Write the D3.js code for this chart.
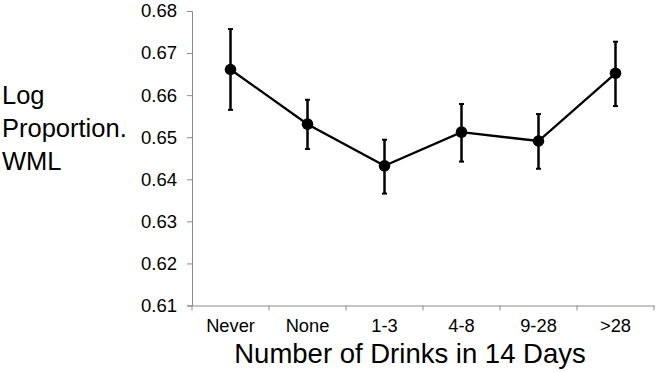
<!DOCTYPE html>
<html>
<head>
<meta charset="utf-8">
<script src="https://cdn.jsdelivr.net/npm/d3@7"></script>
<style>
  html, body { margin: 0; padding: 0; background: #fff; }
  svg { display: block; font-family: "Liberation Sans", Arial, sans-serif; }
</style>
</head>
<body>
<svg id="chart" width="657" height="372"></svg>
<script>
const categories = ["Never", "None", "1-3", "4-8", "9-28", ">28"];
const means = [0.6661, 0.6531, 0.6432, 0.6512, 0.6491, 0.6652];
const upper = [0.6757, 0.6589, 0.6494, 0.6579, 0.6555, 0.6727];
const lower = [0.6565, 0.6472, 0.6366, 0.6442, 0.6425, 0.6574];
const yTicks = [0.61, 0.62, 0.63, 0.64, 0.65, 0.66, 0.67, 0.68];
const xTitle = "Number of Drinks in 14 Days";
const yTitleLines = ["Log", "Proportion.", "WML"];

const svg = d3.select("#chart");
const mLeft = 192, mRight = 654, mTop = 11, mBottom = 305.5;

const x = d3.scaleBand().domain(categories).range([mLeft, mRight]);
const y = d3.scaleLinear().domain([0.61, 0.68]).range([mBottom, mTop]);

// Y axis
const yAxis = svg.append("g").attr("transform", `translate(${mLeft},0)`)
  .call(d3.axisLeft(y).tickValues(yTicks).tickFormat(d3.format(".2f")).tickSizeOuter(0).tickSize(5).tickPadding(10));
yAxis.select(".domain").attr("stroke", "#8c8c8c").attr("stroke-width", 1);
yAxis.selectAll(".tick line").attr("stroke", "#8c8c8c");
yAxis.selectAll(".tick text").attr("font-size", 18.5).attr("fill", "#000")
  .attr("font-family", "'Liberation Sans', Arial, sans-serif");

// X axis
const xAxis = svg.append("g").attr("transform", `translate(0,${mBottom})`)
  .call(d3.axisBottom(x).tickSize(0).tickPadding(14).tickSizeOuter(0));
xAxis.select(".domain").attr("stroke", "#8c8c8c").attr("stroke-width", 1);
xAxis.selectAll(".tick text").attr("font-size", 18.3).attr("fill", "#000")
  .attr("font-family", "'Liberation Sans', Arial, sans-serif");
// boundary tick marks between categories
const bounds = categories.map(c => x(c)).concat([x(categories[categories.length - 1]) + x.bandwidth()]);
xAxis.selectAll(".bound").data(bounds).enter().append("line")
  .attr("x1", d => d).attr("x2", d => d).attr("y1", 0).attr("y2", 5)
  .attr("stroke", "#8c8c8c");

const cx = c => x(c) + x.bandwidth() / 2;
const data = categories.map((c, i) => ({ c, m: means[i], hi: upper[i], lo: lower[i] }));

// error bars
const eb = svg.append("g");
eb.selectAll(".v").data(data).enter().append("line")
  .attr("x1", d => cx(d.c)).attr("x2", d => cx(d.c))
  .attr("y1", d => y(d.hi)).attr("y2", d => y(d.lo))
  .attr("stroke", "#000").attr("stroke-width", 2.5);
eb.selectAll(".capT").data(data).enter().append("line")
  .attr("x1", d => cx(d.c) - 2.5).attr("x2", d => cx(d.c) + 2.5)
  .attr("y1", d => y(d.hi)).attr("y2", d => y(d.hi))
  .attr("stroke", "#000").attr("stroke-width", 2);
eb.selectAll(".capB").data(data).enter().append("line")
  .attr("x1", d => cx(d.c) - 2.5).attr("x2", d => cx(d.c) + 2.5)
  .attr("y1", d => y(d.lo)).attr("y2", d => y(d.lo))
  .attr("stroke", "#000").attr("stroke-width", 2);

// line
svg.append("path").datum(data)
  .attr("fill", "none").attr("stroke", "#000").attr("stroke-width", 2.3)
  .attr("d", d3.line().x(d => cx(d.c)).y(d => y(d.m)));

// markers
svg.append("g").selectAll("circle").data(data).enter().append("circle")
  .attr("cx", d => cx(d.c)).attr("cy", d => y(d.m)).attr("r", 5.8).attr("fill", "#000");

// X title
svg.append("text").attr("x", 410).attr("y", 363)
  .attr("text-anchor", "middle").attr("font-size", 27.5).attr("fill", "#000")
  .text(xTitle);

// Y title
const yt = svg.append("text").attr("font-size", 25.5).attr("fill", "#000");
yTitleLines.forEach((t, i) => {
  yt.append("tspan").attr("x", 2).attr("y", 104 + i * 33).text(t);
});
</script>
</body>
</html>
